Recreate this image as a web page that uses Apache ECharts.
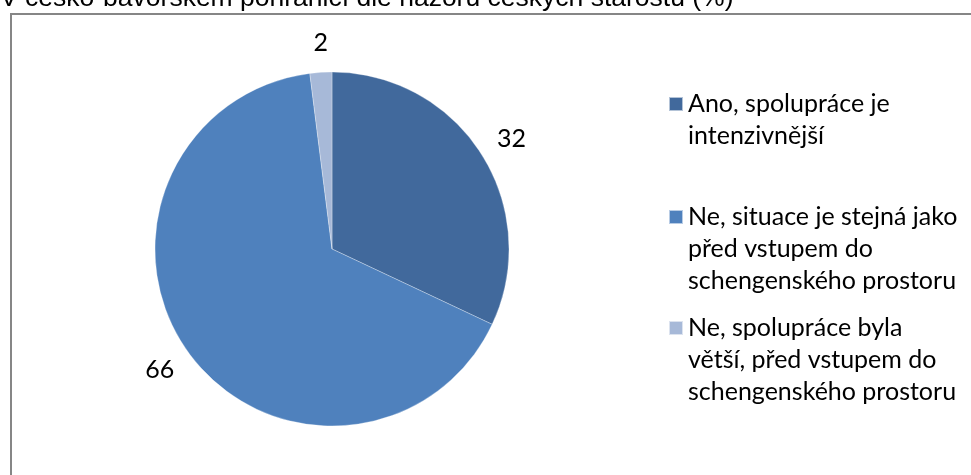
<!DOCTYPE html>
<html>
<head>
<meta charset="utf-8">
<script src="https://cdn.jsdelivr.net/npm/echarts@6/dist/echarts.min.js"></script>
<style>
  html, body { margin: 0; padding: 0; background: #fff; }
  #chart { width: 971px; height: 475px; }
</style>
</head>
<body>
<div id="chart"></div>
<script>
  // kategorie (text legendy, zalomeny jako v originale)
  const categories = [
    'Ano, spolupráce je\nintenzivnější',
    'Ne, situace je stejná jako\npřed vstupem do\nschengenského prostoru',
    'Ne, spolupráce byla\nvětší, před vstupem do\nschengenského prostoru'
  ]
  // hodnoty v %
  const values = [32, 66, 2]
  const colors = ['#41699C', '#4F81BD', '#A7B9D8']

  const titleText = 'V česko-bavorském pohraničí dle názoru českých starostů (%)'

  const fontFamily = 'Lato'
  const fontSize = 25
  const lineH = 32
  const iconSize = 14
  // horni okraj legend, kazda polozka zvlast
  const legendTops = [56, 137, 248]

  const chart = echarts.init(document.getElementById('chart'))

  // jedna legenda na polozku; ikona je uprostred bloku textu,
  // proto prazdne radky na zacatek -> ikona u prvniho radku
  const legends = categories.map((name, i) => {
    const lines = name.split('\n').length
    return {
      orient: 'vertical',
      left: 668,
      top: legendTops[i],
      padding: 0,
      itemWidth: iconSize,
      itemHeight: iconSize,
      icon: 'rect',
      selectedMode: false,
      data: [name],
      formatter: n => ' \n'.repeat(lines - 1) + n,
      textStyle: {
        fontFamily: fontFamily,
        fontSize: fontSize,
        lineHeight: lineH,
        color: '#000'
      }
    }
  })

  const option = {
    animation: false,
    color: colors,
    graphic: [
      {
        type: 'rect',
        shape: { x: 11, y: 14, width: 980, height: 480 },
        style: { fill: 'none', stroke: '#868686', lineWidth: 2 },
        silent: true
      },
      {
        type: 'text',
        x: 0,
        y: -1.5,
        style: {
          text: titleText,
          font: '26.5px "Liberation Sans", Arial, sans-serif',
          fill: '#000',
          verticalAlign: 'middle'
        },
        silent: true
      }
    ],
    legend: legends,
    series: [{
      type: 'pie',
      center: [332, 249],
      radius: 177,
      startAngle: 90,
      clockwise: true,
      avoidLabelOverlap: false,
      itemStyle: { borderColor: 'rgba(255,255,255,0.6)', borderWidth: 0.5 },
      label: {
        show: true,
        position: 'outside',
        formatter: '{c}',
        fontFamily: fontFamily,
        fontSize: fontSize,
        color: '#000',
        distanceToLabelLine: -9
      },
      labelLine: { show: false, length: 29, length2: 0 },
      emphasis: { disabled: true },
      data: categories.map((name, i) => ({ name: name, value: values[i] }))
    }]
  }

  chart.setOption(option)
</script>
</body>
</html>
